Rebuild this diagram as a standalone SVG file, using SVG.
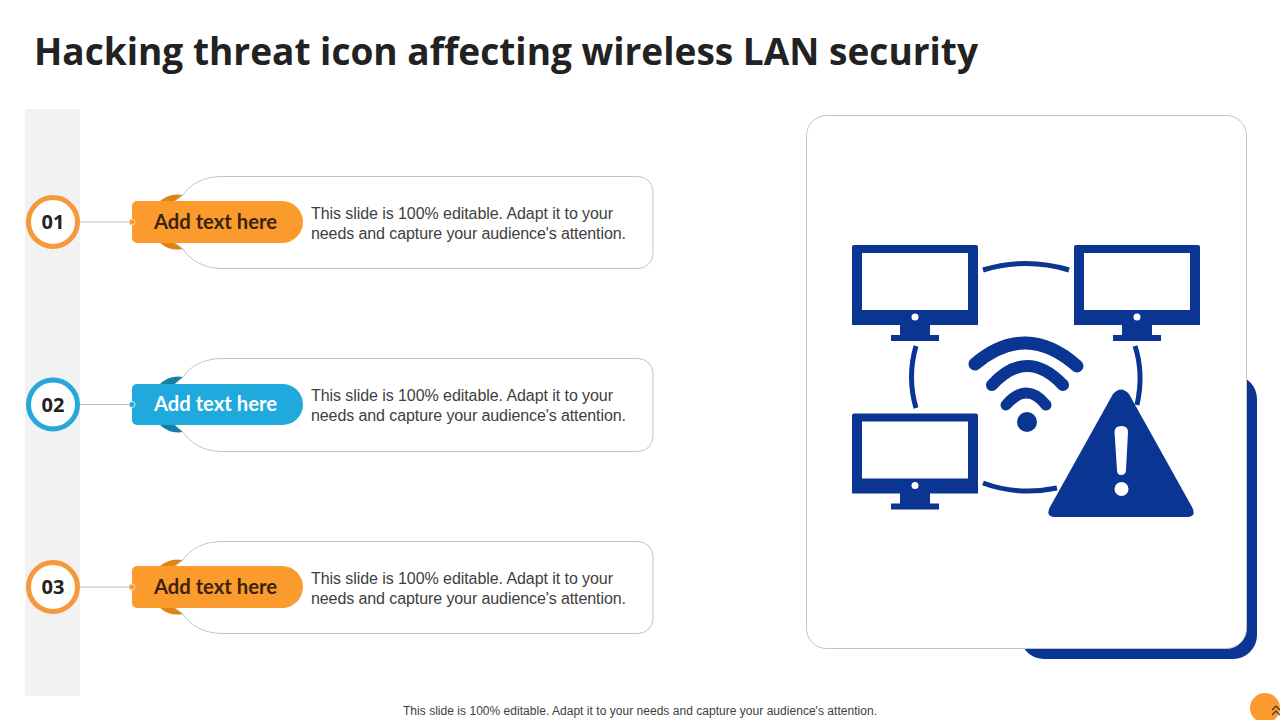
<svg xmlns="http://www.w3.org/2000/svg" width="1280" height="720" viewBox="0 0 1280 720">
<style>
.blue{fill:#0a3592}
.ring{fill:none;stroke:#0a3592;stroke-width:5}
.wifi{fill:none;stroke:#0a3592;stroke-linecap:round}
.num{font:700 20px "Open Sans","Liberation Sans",sans-serif;fill:#222;text-anchor:middle}
.lab{font:700 20px "Lato","Liberation Sans",sans-serif}
.body{font:16px "Liberation Sans",Arial,sans-serif;fill:#404040}
.outline{fill:#fff;stroke:#c4c4c4;stroke-width:1}
.conn{stroke:#bdbdbd;stroke-width:1.2;fill:none}
</style>
<defs>
<g id="monitor">
<path class="blue" d="M854 245H976a2 2 0 0 1 2 2V325H852V247a2 2 0 0 1 2-2ZM862 253V310H968V253ZM900 325H930V335H939V341H891V335H900Z" fill-rule="evenodd"/>
<circle cx="915" cy="317" r="3.5" fill="#fff"/>
</g>
</defs>
<rect width="1280" height="720" fill="#fff"/>
<text x="34" y="65" font-family="'Open Sans','Liberation Sans',sans-serif" font-weight="700" font-size="38" fill="#222" textLength="944" lengthAdjust="spacingAndGlyphs">Hacking threat icon affecting wireless LAN security</text>
<rect id="sidebar" x="25" y="109" width="55" height="587" fill="#f2f2f2"/>
<g id="connectors">
<path class="conn" d="M78 222H132M78 404.500H132M78 587H132"/>
</g>
<g id="item-1">
<circle cx="53" cy="222" r="24.500" fill="#fff" stroke="#f49a3c" stroke-width="5"/>
<text class="num" x="53" y="229">01</text>
<path d="M160 201A27 27 0 0 1 183 195L190 201ZM160 243A27 27 0 0 0 183 249L190 243Z" fill="#e08310"/>
<path class="outline" d="M183 195C190 184 204 176.500 222 176.500H638A15 15 0 0 1 653 191.500V253.500A15 15 0 0 1 638 268.500H222C204 268.500 190 260 183 249L175 243V201Z"/>
<path d="M137 201H282A21 21 0 0 1 303 222A21 21 0 0 1 282 243H137A5 5 0 0 1 132 238V206A5 5 0 0 1 137 201Z" fill="#fb9a2d"/>
<circle cx="132" cy="222" r="3" fill="#f49a3c" stroke="#f5dcb8" stroke-width="1"/>
<text class="lab" x="154" y="229" fill="#3a2410" textLength="123" lengthAdjust="spacingAndGlyphs">Add text here</text>
<text class="body" x="311" y="219" textLength="302">This slide is 100% editable. Adapt it to your</text>
<text class="body" x="311" y="239" textLength="315">needs and capture your audience's attention.</text>
</g>
<g id="item-2">
<circle cx="53" cy="404.500" r="24.500" fill="#fff" stroke="#26a9d9" stroke-width="5"/>
<text class="num" x="53" y="411.500">02</text>
<path d="M160 384A27 27 0 0 1 183 377L190 384ZM160 425A27 27 0 0 0 183 432L190 425Z" fill="#177fa6"/>
<path class="outline" d="M183 377C190 366 204 358.500 222 358.500H638A15 15 0 0 1 653 373.500V436.500A15 15 0 0 1 638 451.500H222C204 451.500 190 443 183 432L175 425V384Z"/>
<path d="M137 384H282A20.500 20.500 0 0 1 303 404.500A20.500 20.500 0 0 1 282 425H137A5 5 0 0 1 132 420V389A5 5 0 0 1 137 384Z" fill="#1fa9dc"/>
<circle cx="132" cy="404.500" r="3" fill="#1fa9dc" stroke="#d5eef8" stroke-width="1"/>
<text class="lab" x="154" y="411" fill="#fff" textLength="123" lengthAdjust="spacingAndGlyphs">Add text here</text>
<text class="body" x="311" y="401" textLength="302">This slide is 100% editable. Adapt it to your</text>
<text class="body" x="311" y="421" textLength="315">needs and capture your audience's attention.</text>
</g>
<g id="item-3">
<circle cx="53" cy="587" r="24.500" fill="#fff" stroke="#f49a3c" stroke-width="5"/>
<text class="num" x="53" y="594">03</text>
<path d="M160 566A27 27 0 0 1 183 560L190 566ZM160 608A27 27 0 0 0 183 614L190 608Z" fill="#e08310"/>
<path class="outline" d="M183 560C190 549 204 541.500 222 541.500H638A15 15 0 0 1 653 556.500V618.500A15 15 0 0 1 638 633.500H222C204 633.500 190 625 183 614L175 608V566Z"/>
<path d="M137 566H282A21 21 0 0 1 303 587A21 21 0 0 1 282 608H137A5 5 0 0 1 132 603V571A5 5 0 0 1 137 566Z" fill="#fb9a2d"/>
<circle cx="132" cy="587" r="3" fill="#f49a3c" stroke="#f5dcb8" stroke-width="1"/>
<text class="lab" x="154" y="594" fill="#3a2410" textLength="123" lengthAdjust="spacingAndGlyphs">Add text here</text>
<text class="body" x="311" y="584" textLength="302">This slide is 100% editable. Adapt it to your</text>
<text class="body" x="311" y="604" textLength="315">needs and capture your audience's attention.</text>
</g>
<g id="card">
<rect x="1020" y="375" width="237" height="284" rx="24" class="blue"/>
<rect x="806.500" y="115.500" width="440" height="533" rx="20" fill="#fff" stroke="#c4c4c4" stroke-width="1"/>
</g>
<g id="icon">
<use href="#monitor"/>
<use href="#monitor" x="222"/>
<use href="#monitor" y="168.500"/>
<path class="ring" d="M983 270Q1026 257 1069 270"/>
<path class="ring" d="M916 346Q907 377 916 408"/>
<path class="ring" d="M1135 346Q1144 373 1137 405"/>
<path class="ring" d="M983 483Q1018 496 1057 488"/>
<path class="wifi" stroke-width="13" d="M975 364Q1026 321 1077 366"/>
<path class="wifi" stroke-width="12" d="M992 385Q1027 347 1063 385"/>
<path class="wifi" stroke-width="11" d="M1006 405Q1027 381 1046 405"/>
<circle cx="1027" cy="422" r="10" class="blue"/>
<path class="blue" d="M1113 394Q1121 385 1129 394L1192 507Q1197 517 1187 517H1055Q1045 517 1050 507Z"/>
<path d="M1114.500 432Q1114.500 426 1121.500 426Q1128 426 1128 432L1126 470Q1126 475 1121 475Q1117 475 1117 470Z" fill="#fff"/>
<circle cx="1121.500" cy="489" r="7" fill="#fff"/>
</g>
<text id="footer" x="640" y="715" font-family="'Liberation Sans',Arial,sans-serif" font-size="12" fill="#404040" text-anchor="middle" textLength="474">This slide is 100% editable. Adapt it to your needs and capture your audience's attention.</text>
<g id="badge">
<circle cx="1265" cy="708" r="15" fill="#fb9a2d"/>
<path d="M1272 710L1276 706L1280 710M1272 715L1276 711L1280 715" fill="none" stroke="#333" stroke-width="1.200"/>
</g>
</svg>
